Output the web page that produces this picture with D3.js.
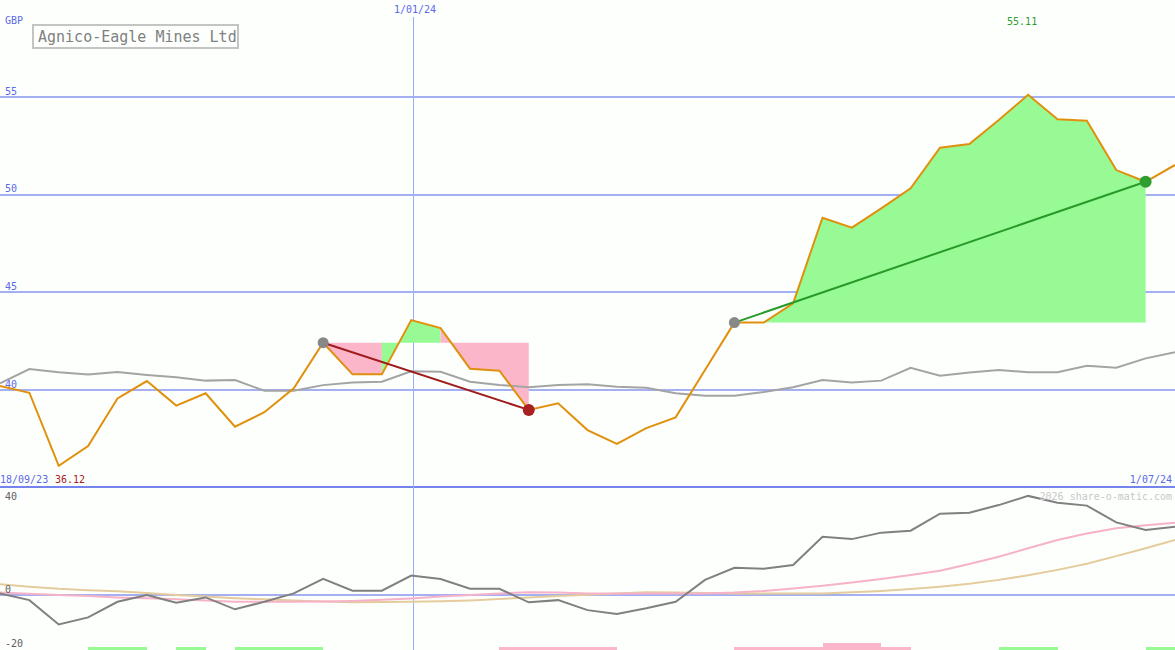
<!DOCTYPE html>
<html>
<head>
<meta charset="utf-8">
<script src="https://cdn.jsdelivr.net/npm/d3@7"></script>
<style>
  body { margin: 0; background: #fdfffd; }
  svg { display: block; }
  text { font-family: "DejaVu Sans Mono", monospace; }
</style>
</head>
<body>
<div id="chart"></div>
<script>
// weekly closes, GBP
var price = [40.20, 39.86, 36.12, 37.13, 39.57, 40.46, 39.20, 39.83, 38.12, 38.86,
             40.09, 42.42, 40.80, 40.80, 43.58, 43.17, 41.09, 40.99, 38.98, 39.32,
             37.95, 37.24, 38.05, 38.60, 41.02, 43.45, 43.45, 44.44, 48.82, 48.31,
             49.30, 50.33, 52.40, 52.59, 53.82, 55.11, 53.86, 53.79, 51.26, 50.66, 51.52];
// grey moving average in the price panel
var priceAvg = [40.34, 41.07, 40.91, 40.80, 40.92, 40.77, 40.65, 40.48, 40.51, 39.96,
                39.96, 40.25, 40.39, 40.42, 40.96, 40.93, 40.42, 40.26, 40.14, 40.26,
                40.29, 40.17, 40.12, 39.83, 39.71, 39.71, 39.90, 40.14, 40.51, 40.39,
                40.48, 41.14, 40.73, 40.89, 41.02, 40.91, 40.91, 41.24, 41.14, 41.62, 41.93];
// lower panel
var momentum = [0.6, -1.9, -10.9, -8.3, -2.5, 0.0, -2.9, -0.9, -5.3, -2.5,
                0.6, 6.0, 1.6, 1.6, 7.2, 5.9, 2.3, 2.3, -2.7, -1.9,
                -5.6, -7.0, -4.9, -2.5, 5.6, 10.1, 9.7, 11.1, 21.6, 20.7,
                23.1, 23.8, 30.1, 30.5, 33.3, 36.7, 34.2, 33.1, 26.9, 24.1, 25.3];
var shortMa = [0.9, 0.5, 0.0, -0.4, -0.9, -1.2, -1.6, -2.0, -2.5, -2.5,
               -2.5, -2.4, -2.2, -1.8, -1.3, -0.6, 0.0, 0.6, 1.0, 0.9,
               0.6, 0.6, 0.6, 0.6, 0.6, 0.9, 1.5, 2.4, 3.4, 4.6,
               5.9, 7.4, 9.0, 11.5, 14.2, 17.3, 20.4, 22.8, 24.7, 25.8, 26.8];
var longMa = [4.0, 3.1, 2.3, 1.8, 1.4, 0.7, 0.0, -0.6, -1.2, -1.6,
              -2.0, -2.4, -2.7, -2.6, -2.5, -2.3, -2.0, -1.5, -0.9, -0.4,
              0.1, 0.6, 1.0, 0.9, 0.7, 0.6, 0.6, 0.6, 0.6, 1.0,
              1.5, 2.2, 3.1, 4.2, 5.6, 7.3, 9.3, 11.6, 14.4, 17.3, 20.4];
// signal bars per week interval: +green / -pink
var signal = [0, 0, 0, 1, 1, 0, 1, 0, 1, 1,
              1, 0, 0, 0, 0, 0, 0, -1, -1, -1,
              -1, 0, 0, 0, 0, -1, -1, -1, -2, -2,
              -1, 0, 0, 0, 1, 1, 0, 0, 0, 1];
// trend segments (start week, end week)
var trendStart = [11, 25];
var trendEnd = [18, 39];

var priceTicks = [55, 50, 45, 40];
var lowerTicks = [40, 0, -20];
var dateLabels = ['18/09/23', '1/01/24', '1/07/24'];
var datePos = [0, 14.06, 40];
var title = 'Agnico-Eagle Mines Ltd';
var currency = 'GBP';
var credit = '2026 share-o-matic.com';

var width = 1175, height = 650;
var green = '#98fa94', pink = '#fbb6ca';

var x = d3.scaleLinear().domain([0, 40]).range([0, width]);
var yPrice = d3.scaleLinear().domain([40, 55]).range([390, 97]);
var yLower = d3.scaleLinear().domain([-20, 0]).range([649, 595]);
var barH = d3.scaleLinear().domain([0, 2]).range([0, 7]);

var svg = d3.select('#chart').append('svg')
    .attr('width', width)
    .attr('height', height);

svg.append('rect').attr('width', width).attr('height', height).style('fill', '#fdfffd');

// grid
svg.selectAll('.pgrid').data(priceTicks).enter().append('line')
    .attr('x1', 0).attr('x2', width)
    .attr('y1', d => yPrice(d)).attr('y2', d => yPrice(d))
    .style('stroke', '#a4b0f2').style('stroke-width', 2)
    .style('shape-rendering', 'crispEdges');
svg.selectAll('.plab').data(priceTicks).enter().append('text')
    .attr('x', 5).attr('y', d => yPrice(d) - 2.5)
    .style('font-size', '10px').style('fill', '#5a6ae8')
    .text(d => d);

svg.append('line')
    .attr('x1', 0).attr('x2', width)
    .attr('y1', yLower(0)).attr('y2', yLower(0))
    .style('stroke', '#a4b0f2').style('stroke-width', 2)
    .style('shape-rendering', 'crispEdges');

// separator between panels
svg.append('line')
    .attr('x1', 0).attr('x2', width)
    .attr('y1', 487).attr('y2', 487)
    .style('stroke', '#7484ec').style('stroke-width', 2)
    .style('shape-rendering', 'crispEdges');

// 1/01/24 marker
svg.append('line')
    .attr('x1', Math.round(x(datePos[1])) + 0.5).attr('x2', Math.round(x(datePos[1])) + 0.5)
    .attr('y1', 17).attr('y2', height)
    .style('stroke', '#9cacfa').style('stroke-width', 1);

// shaded areas between price and trend start level, one path per colour run
var area = d3.area().x(d => x(d.i)).y0(d => yPrice(d.level)).y1(d => yPrice(d.v));
trendStart.forEach(function(s, k) {
    var level = price[s];
    var runs = [];
    for (var i = s; i < trendEnd[k]; i++) {
        var c = price[i + 1] >= level ? green : pink;
        if (runs.length && runs[runs.length - 1].c == c) runs[runs.length - 1].e = i + 1;
        else runs.push({c: c, s: i, e: i + 1});
    }
    runs.forEach(function(r) {
        var pts = d3.range(r.s, r.e + 1).map(j => ({i: j, v: price[j], level: level}));
        svg.append('path')
            .attr('d', area(pts))
            .style('fill', r.c)
            .style('stroke', 'none');
    });
});

var linePrice = d3.line().x((d, i) => x(i)).y(d => yPrice(d));
var lineLower = d3.line().x((d, i) => x(i)).y(d => yLower(d));

svg.append('path').attr('d', linePrice(priceAvg))
    .style('fill', 'none').style('stroke', '#a4a4a4').style('stroke-width', 2);
svg.append('path').attr('d', linePrice(price))
    .style('fill', 'none').style('stroke', '#e0900c').style('stroke-width', 2);

// lower panel lines
svg.append('path').attr('d', lineLower(longMa))
    .style('fill', 'none').style('stroke', '#e4cc9c').style('stroke-width', 2);
svg.append('path').attr('d', lineLower(shortMa))
    .style('fill', 'none').style('stroke', '#f6b2c8').style('stroke-width', 2);
svg.append('path').attr('d', lineLower(momentum))
    .style('fill', 'none').style('stroke', '#808080').style('stroke-width', 2);

// signal bars
svg.selectAll('.sig').data(signal).enter().append('rect')
    .attr('x', (d, i) => x(i))
    .attr('width', (d, i) => x(i + 1) - x(i))
    .attr('y', d => height - barH(Math.abs(d)))
    .attr('height', d => barH(Math.abs(d)))
    .style('fill', d => d > 0 ? green : pink)
    .style('shape-rendering', 'crispEdges');

// trend lines and markers
trendStart.forEach(function(s, k) {
    var e = trendEnd[k];
    var up = price[e] > price[s];
    svg.append('line')
        .attr('x1', x(s)).attr('y1', yPrice(price[s]))
        .attr('x2', x(e)).attr('y2', yPrice(price[e]))
        .style('stroke', up ? '#289a28' : '#a01c1c').style('stroke-width', 2);
    svg.append('circle')
        .attr('cx', x(s)).attr('cy', yPrice(price[s])).attr('r', 5.5)
        .style('fill', '#888888');
    svg.append('circle')
        .attr('cx', x(e)).attr('cy', yPrice(price[e])).attr('r', 6)
        .style('fill', up ? '#2e9e2e' : '#a82020');
});

// lower panel labels
svg.selectAll('.llab').data(lowerTicks).enter().append('text')
    .attr('x', 5)
    .attr('y', d => Math.max(yLower(d) - 2, 500))
    .style('font-size', '10px').style('fill', '#606060')
    .text(d => d);

// texts
svg.append('text').attr('x', 5).attr('y', 24)
    .style('font-size', '10px').style('fill', '#5a6ae8').text(currency);

svg.append('rect')
    .attr('x', 33).attr('y', 25).attr('width', 205).attr('height', 23)
    .style('fill', '#fdfffd').style('stroke', '#c4c4c4').style('stroke-width', 2);
svg.append('text').attr('x', 38).attr('y', 42)
    .style('font-size', '15px').style('fill', '#808080').text(title);

svg.append('text').attr('x', x(datePos[1]) + 2).attr('y', 13)
    .attr('text-anchor', 'middle')
    .style('font-size', '10px').style('fill', '#5a6ae8').text(dateLabels[1]);

var maxIdx = d3.maxIndex(price);
var minIdx = d3.minIndex(price);
svg.append('text').attr('x', x(maxIdx) - 6).attr('y', 25)
    .attr('text-anchor', 'middle')
    .style('font-size', '10px').style('fill', '#2e9e2e').text(price[maxIdx].toFixed(2));

svg.append('text').attr('x', 0).attr('y', 483)
    .style('font-size', '10px').style('fill', '#5a6ae8').text(dateLabels[0]);
svg.append('text').attr('x', 55).attr('y', 483)
    .style('font-size', '10px').style('fill', '#a82020').text(price[minIdx].toFixed(2));
svg.append('text').attr('x', width - 3).attr('y', 483)
    .attr('text-anchor', 'end')
    .style('font-size', '10px').style('fill', '#5a6ae8').text(dateLabels[2]);
svg.append('text').attr('x', width - 3).attr('y', 500)
    .attr('text-anchor', 'end')
    .style('font-size', '10px').style('fill', '#c8c8c8').text(credit);
</script>
</body>
</html>
